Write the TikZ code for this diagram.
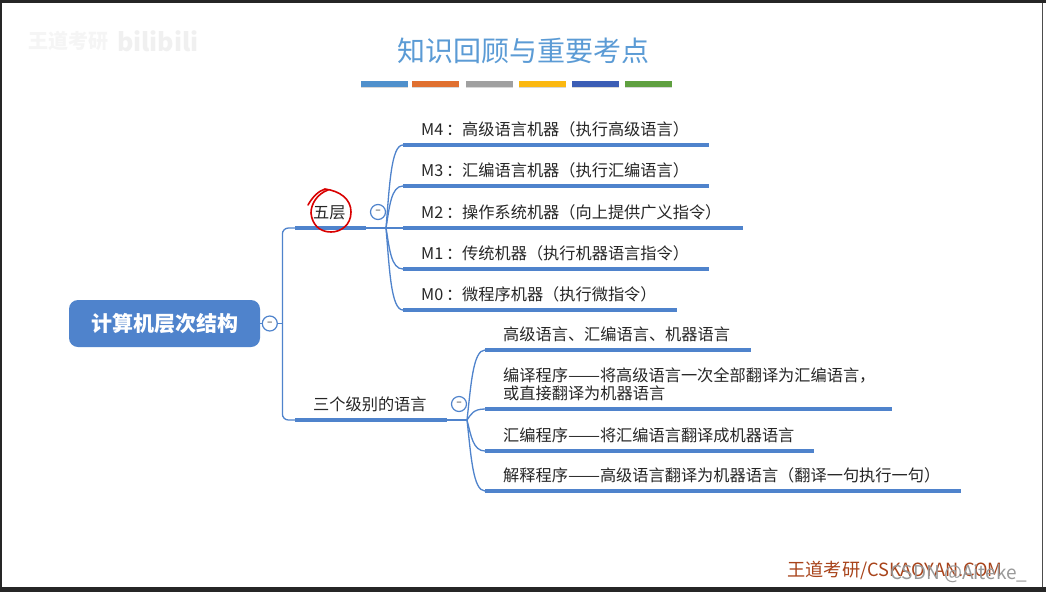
\documentclass[tikz,border=0pt]{standalone}
\usepackage{fontspec}
\usepackage{graphicx}
\setmainfont{Noto Sans CJK SC}
\usetikzlibrary{positioning, calc, shadows}
\definecolor{mapblue}{HTML}{4F83CC}
\definecolor{titleblue}{HTML}{5B9BD5}
\definecolor{brandred}{HTML}{A8431A}
\definecolor{stripeone}{HTML}{4F90CC}
\definecolor{stripetwo}{HTML}{E07030}
\definecolor{stripethree}{HTML}{A0A0A0}
\definecolor{stripefour}{HTML}{FBB810}
\definecolor{stripefive}{HTML}{3B5DB5}
\definecolor{stripesix}{HTML}{5FA040}
\newcommand{\wdash}{\scalebox{1.18}[1]{——}}
\tikzset{
    root/.style={fill=mapblue, rounded corners=9pt, text=white, font=\fontsize{21}{24}\bfseries\selectfont, minimum width=191pt, minimum height=47pt, inner sep=0pt},
    topic/.style={anchor=south west, inner sep=0pt, inner ysep=6.8pt, text width=#1, text depth=2.5pt, align=left, font=\fontsize{16.2}{18}\selectfont, text=black!85, execute at begin node=\hspace*{18pt}},
    bar/.style={line width=4.5pt, mapblue},
    link/.style={line width=1.3pt, mapblue},
    fold/.style={circle, draw=mapblue, line width=1.2pt, fill=white, minimum size=15pt, inner sep=0pt, font=\fontsize{10}{10}\bfseries\selectfont, text=black!50},
    stripe/.style={minimum width=47pt, minimum height=5.5pt, inner sep=0pt, drop shadow={shadow xshift=0pt, shadow yshift=-1.5pt, opacity=.3}}
}

\begin{document}
\begin{tikzpicture}[x=1pt, y=-1pt]
    \useasboundingbox (0,0) rectangle (1046,592);
    \fill[white] (0,0) rectangle (1046,592);
    % screen edge
    \fill[black!85] (0,0) rectangle (1046,3);
    \fill[black!85] (0,587) rectangle (1046,592);
    \fill[black!85] (0,0) rectangle (2,592);
    \fill[black!70] (1041.5,3) rectangle (1042.5,587);

    \node [font=\fontsize{28}{32}\selectfont, text=titleblue] (title) at (523,51) {知识回顾与重要考点};
    \node [stripe, fill=stripeone] (s1) at (384.5,84) {};
    \node [stripe, fill=stripetwo, right=4pt of s1] (s2) {};
    \node [stripe, fill=stripethree, right=6pt of s2] (s3) {};
    \node [stripe, fill=stripefour, right=6pt of s3] (s4) {};
    \node [stripe, fill=stripefive, right=5pt of s4] (s5) {};
    \node [stripe, fill=stripesix, right=6pt of s5] (s6) {};
    \node [font=\fontsize{20}{22}\bfseries\selectfont, text=black!4] (mark) at (68,41) {王道考研};
    \node [font=\fontsize{25}{28}\bfseries\selectfont, text=black!6, right=2pt of mark] (bili) {bilibili};

    \node [root] (comp) at (164.5,323.5) {计算机层次结构};
    \node [fold, right=1.5pt of comp] (f0) {--};
    \coordinate [right=4.5pt of f0] (trunk);

    \node [topic=71pt] (five) at (295,228) {五层};
    \node [topic=152pt] (three) at (295,420) {三个级别的语言};
    \node [fold] (f1) at (378,212) {--};
    \node [fold] (f2) at (459,404) {--};
    \coordinate (hub1) at (386,228);
    \coordinate (hub2) at (467,420);

    \node [topic=306pt] (m4) at (403,145) {M4\,：高级语言机器（执行高级语言）};
    \node [topic=306pt] (m3) at (403,186) {M3\,：汇编语言机器（执行汇编语言）};
    \node [topic=340pt] (m2) at (403,228) {M2\,：操作系统机器（向上提供广义指令）};
    \node [topic=306pt] (m1) at (403,269) {M1\,：传统机器（执行机器语言指令）};
    \node [topic=274pt] (m0) at (403,310) {M0\,：微程序机器（执行微指令）};

    \node [topic=266pt] (gen) at (485,350) {高级语言、汇编语言、机器语言};
    \node [topic=407pt, text depth=20.5pt] (comr) at (485,409) {编译程序\wdash 将高级语言一次全部翻译为汇编语言，\\\hspace*{18pt}或直接翻译为机器语言};
    \node [topic=329pt] (asmr) at (485,451) {汇编程序\wdash 将汇编语言翻译成机器语言};
    \node [topic=476pt] (intp) at (485,491) {解释程序\wdash 高级语言翻译为机器语言（翻译一句执行一句）};

    % underlines
    \foreach \n in {five,three,m4,m3,m2,m1,m0,gen,comr,asmr,intp}
        \draw [bar] (\n.south west) -- (\n.south east);

    % branches
    \draw [link] (comp.east) -- (f0);
    \draw [link] (f0.east) -- (trunk);
    \draw [link, rounded corners=6pt] (five.south west) -| (trunk) |- (three.south west);
    \draw [link] (five.south east) -- (hub1);
    \draw [link] (three.south east) -- (hub2);
    \foreach \n in {m4,m3,m2,m1,m0}
        \draw [link] (hub1) .. controls ($(hub1)!.5!(\n.south west)-(5,0)$) and ($(\n.south west)-(12,0)$) .. (\n.south west);
    \foreach \n in {gen,comr,asmr,intp}
        \draw [link] (hub2) .. controls ($(hub2)!.5!(\n.south west)-(5,0)$) and ($(\n.south west)-(12,0)$) .. (\n.south west);

    % red ring round the first topic
    \draw [red!85!black, line width=1.6pt, line cap=round] (308,205) .. controls (313,196) and (319,191) .. (325,189) .. controls (340,191) and (351,199) .. (351,212) .. controls (351,225) and (341,232) .. (331,232) .. controls (319,232) and (312,224) .. (311,213) .. controls (311,204) and (317,194) .. (328,190);

    \node [font=\fontsize{18.2}{20}\selectfont, text=brandred] (brand) at (895,570) {王道考研/CSKAOYAN.COM};
    \node [font=\fontsize{19}{20}\selectfont, text=black!40, anchor=east] (csdn) at (1031,574) {CSDN @Aiteke\_};
\end{tikzpicture}
\end{document}
